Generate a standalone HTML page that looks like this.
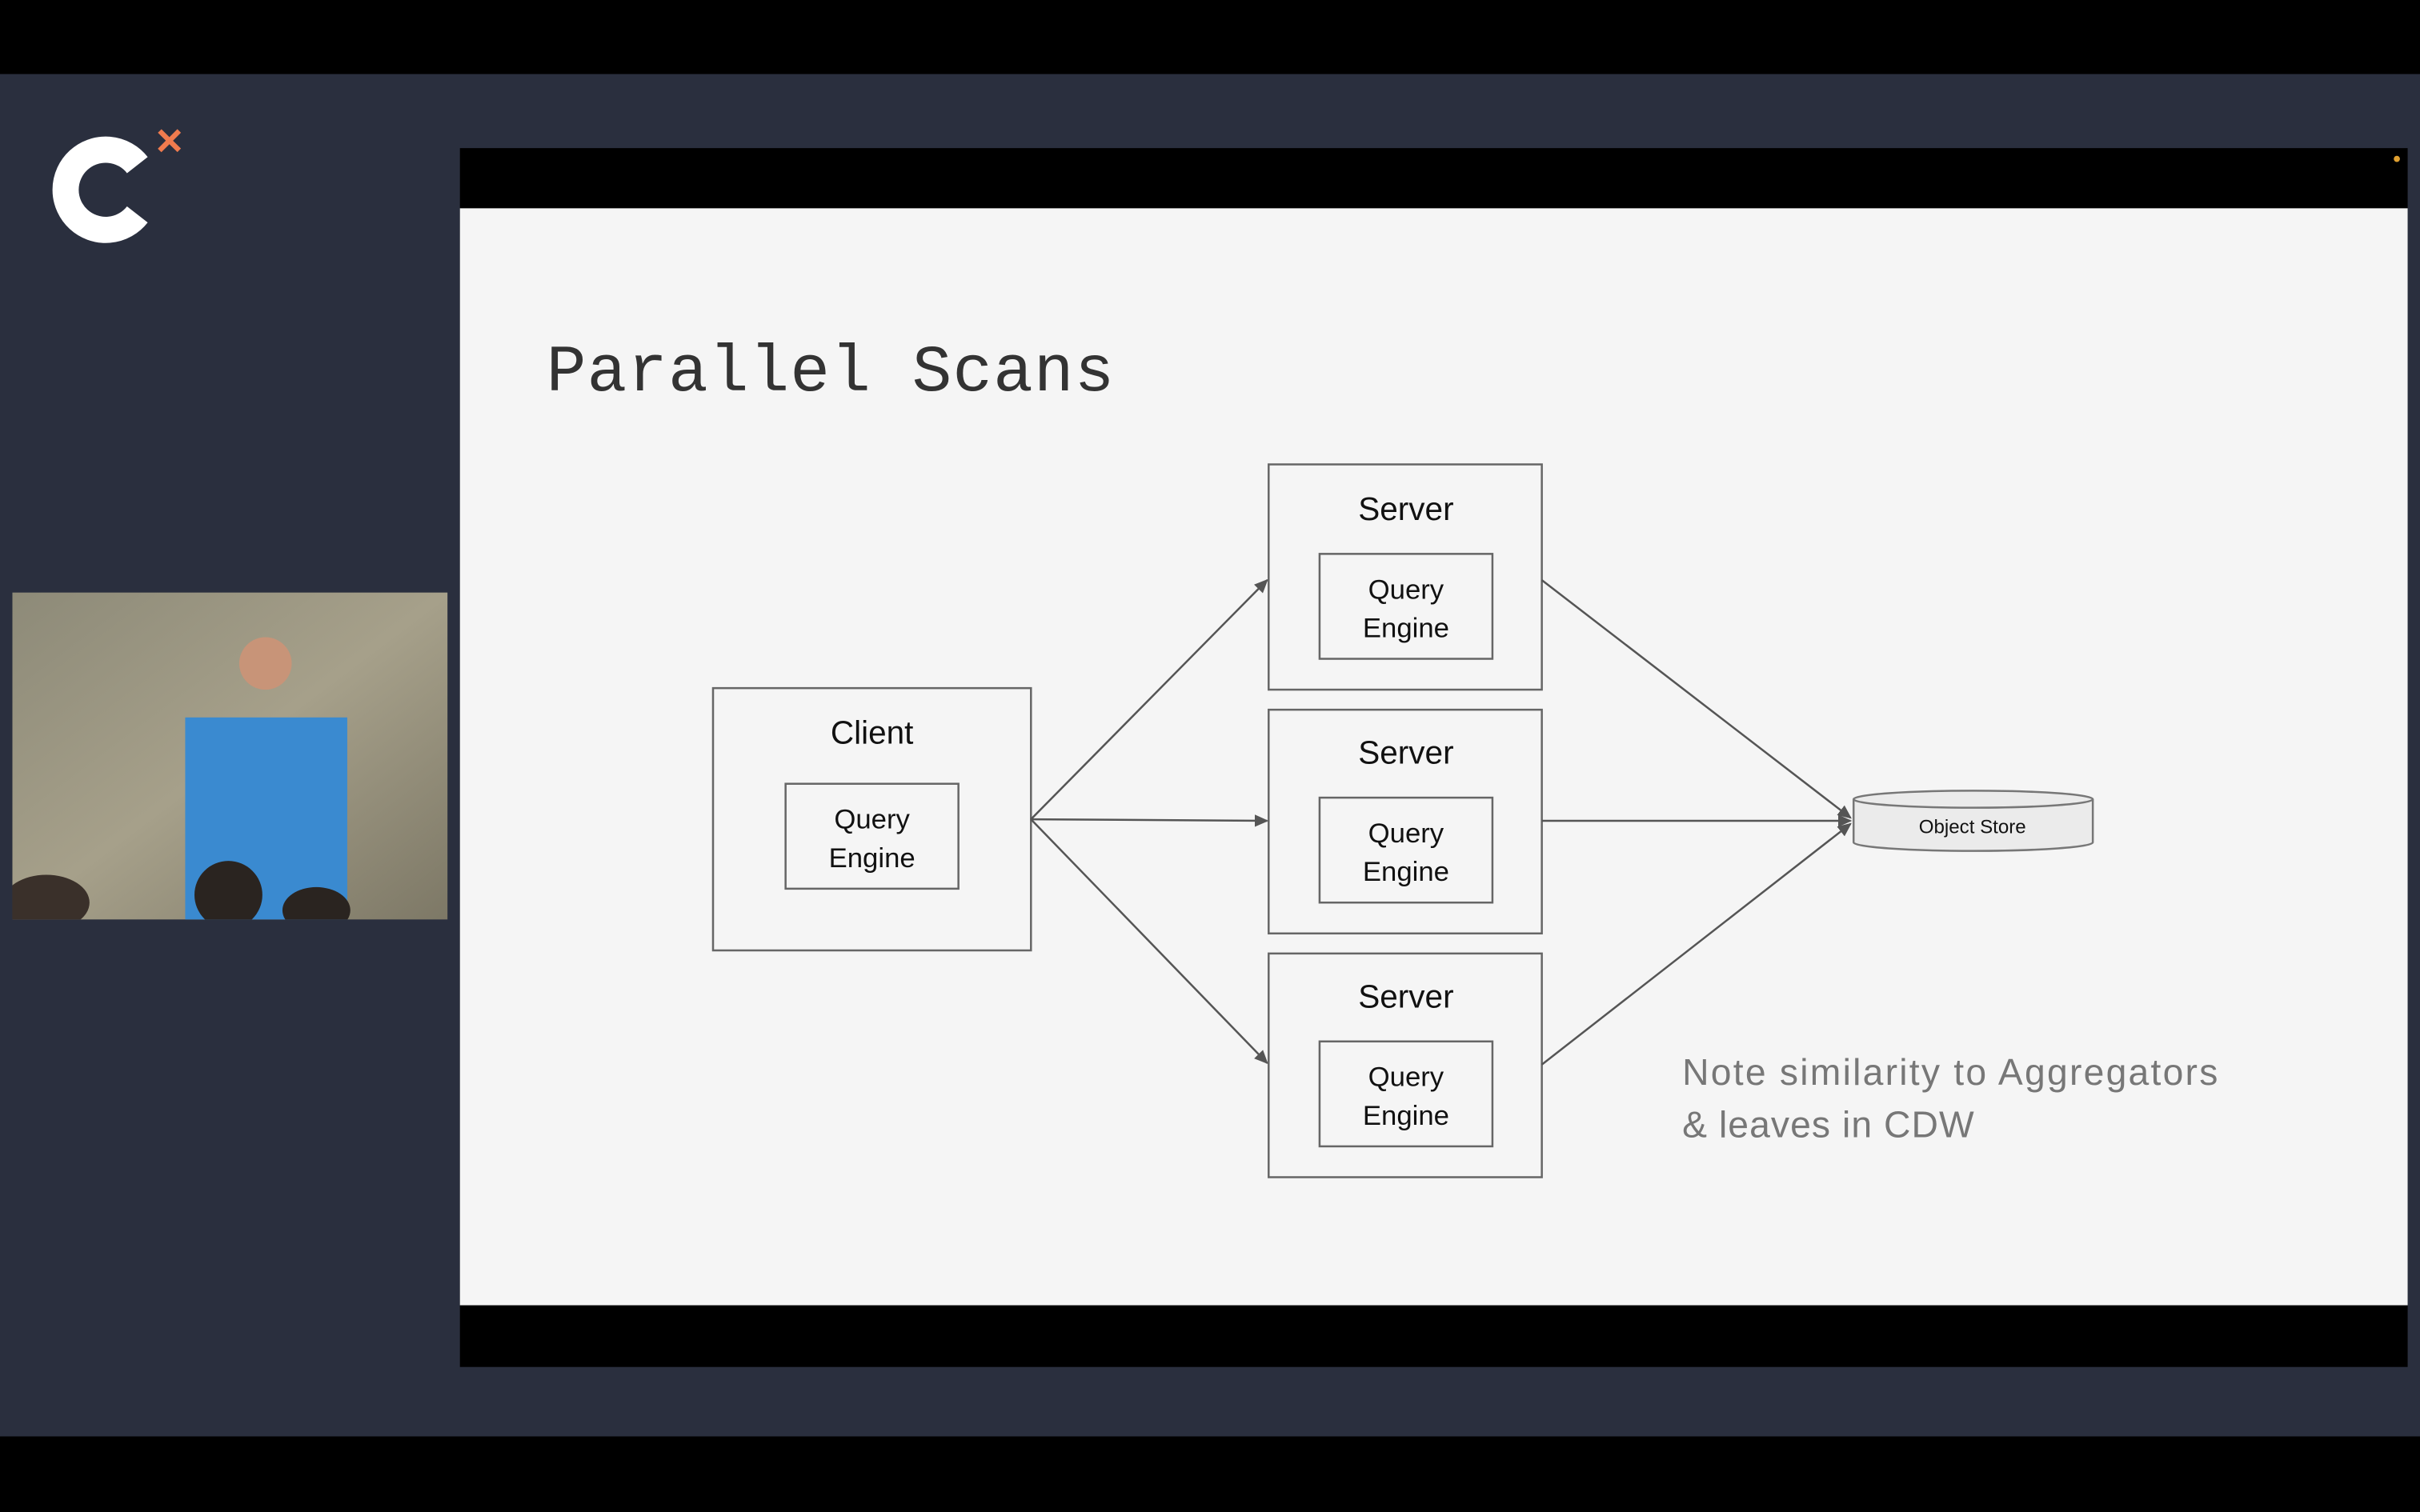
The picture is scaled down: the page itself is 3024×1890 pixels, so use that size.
<!DOCTYPE html>
<html><head><meta charset="utf-8"><style>
html,body{margin:0;padding:0;background:#2a2f3e;}
svg{display:block}
</style></head><body>
<svg width="3024" height="1890" viewBox="0 0 1568 980" preserveAspectRatio="none" xmlns="http://www.w3.org/2000/svg">
<defs>
<marker id="ah" markerWidth="10" markerHeight="10" refX="8" refY="5" orient="auto" markerUnits="userSpaceOnUse">
<path d="M0,1 L9,5 L0,9 Z" fill="#555"/>
</marker>
<linearGradient id="vid" x1="0" y1="0" x2="1" y2="1">
<stop offset="0" stop-color="#8d8a78"/><stop offset="0.5" stop-color="#a6a08a"/><stop offset="1" stop-color="#7d7866"/>
</linearGradient>
<clipPath id="vc"><rect x="8" y="384" width="282" height="212"/></clipPath>
</defs>
<rect x="0" y="0" width="1568" height="980" fill="#2a2f3e"/>
<rect x="0" y="0" width="1568" height="48" fill="#000"/>
<rect x="0" y="931" width="1568" height="49" fill="#000"/>
<!-- logo -->
<path d="M89,107 A26,26 0 1 0 89,139" stroke="#fff" stroke-width="17" fill="none"/>
<text x="101" y="101" font-family="Liberation Sans, sans-serif" font-size="30" font-weight="bold" fill="#f07b4e">×</text>
<!-- video -->
<g clip-path="url(#vc)">
<rect x="8" y="384" width="282" height="212" fill="url(#vid)"/>
<rect x="120" y="465" width="105" height="131" fill="#3a8ad0"/>
<circle cx="172" cy="430" r="17" fill="#c89478"/>
<ellipse cx="148" cy="580" rx="22" ry="22" fill="#2a2420"/>
<ellipse cx="30" cy="585" rx="28" ry="18" fill="#3a302a"/>
<ellipse cx="205" cy="590" rx="22" ry="15" fill="#2a2420"/>
</g>
<!-- slide -->
<rect x="298" y="96" width="1262" height="790" fill="#000"/>
<rect x="298" y="135" width="1262" height="711" fill="#f5f5f5"/>
<circle cx="1553" cy="103" r="2" fill="#e0a030"/>
<text x="354" y="253" font-family="Liberation Mono, monospace" font-size="43" textLength="368" fill="#333">Parallel Scans</text>
<g fill="none" stroke="#666" stroke-width="1.3">
<rect x="462" y="446" width="206" height="170"/>
<rect x="509" y="508" width="112" height="68"/>
<rect x="822" y="301" width="177" height="146"/>
<rect x="855" y="359" width="112" height="68"/>
<rect x="822" y="460" width="177" height="145"/>
<rect x="855" y="517" width="112" height="68"/>
<rect x="822" y="618" width="177" height="145"/>
<rect x="855" y="675" width="112" height="68"/>
</g>
<g stroke="#555" stroke-width="1.3" marker-end="url(#ah)">
<line x1="668" y1="531" x2="821" y2="376"/>
<line x1="668" y1="531" x2="821" y2="532"/>
<line x1="668" y1="531" x2="821" y2="689"/>
<line x1="999" y1="376" x2="1199" y2="530"/>
<line x1="999" y1="532" x2="1199" y2="532"/>
<line x1="999" y1="690" x2="1199" y2="534"/>
</g>
<!-- cylinder -->
<path d="M1201,518 L1201,546 A77.5,5.5 0 0 0 1356,546 L1356,518" fill="#ebebeb" stroke="#777" stroke-width="1.3"/>
<ellipse cx="1278.5" cy="518" rx="77.5" ry="5.5" fill="#ebebeb" stroke="#777" stroke-width="1.3"/>
<g font-family="Liberation Sans, sans-serif" fill="#111" text-anchor="middle">
<text x="565" y="482" font-size="21">Client</text>
<text x="565" y="537" font-size="18">Query</text>
<text x="565" y="562" font-size="18">Engine</text>
<text x="911" y="337" font-size="21">Server</text>
<text x="911" y="388" font-size="18">Query</text>
<text x="911" y="413" font-size="18">Engine</text>
<text x="911" y="495" font-size="21">Server</text>
<text x="911" y="546" font-size="18">Query</text>
<text x="911" y="571" font-size="18">Engine</text>
<text x="911" y="653" font-size="21">Server</text>
<text x="911" y="704" font-size="18">Query</text>
<text x="911" y="729" font-size="18">Engine</text>
<text x="1278" y="540" font-size="12.5">Object Store</text>
</g>
<g font-family="Liberation Sans, sans-serif" fill="#777" font-size="24">
<text x="1090" y="703" textLength="347">Note similarity to Aggregators</text>
<text x="1090" y="737" textLength="189">&amp; leaves in CDW</text>
</g>
</svg>
</body></html>
